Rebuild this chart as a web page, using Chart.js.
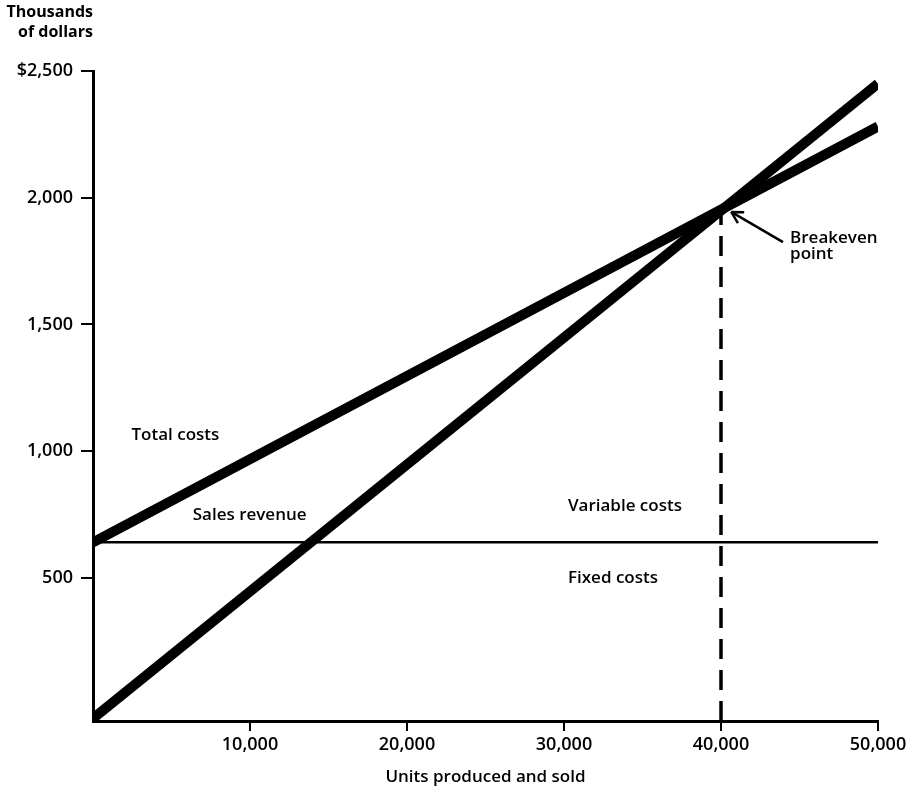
<!DOCTYPE html>
<html>
<head>
<meta charset="utf-8">
<script src="https://cdn.jsdelivr.net/npm/chart.js@4"></script>
<style>
    html, body { margin: 0; padding: 0; background: #fff; }
    #wrap { width: 918px; height: 789px; }
</style>
</head>
<body>
<div id="wrap"><canvas id="breakeven"></canvas></div>
<script>
// values (units, thousands of dollars)
const units = [0, 50000];
const totalCosts = [640, 2281];
const salesRevenue = [-55, 2450];
const fixedCosts = [640, 640];
const breakevenUnits = [40000, 40000];
const breakevenLine = [-65, 1950];

const xTicks = [10000, 20000, 30000, 40000, 50000];
const yTicks = [500, 1000, 1500, 2000, 2500];
const yMin = -65;
const yMax = 2500;

const font = 'Open Sans';

function points(xs, ys) {
    return xs.map((x, i) => ({ x: x, y: ys[i] }));
}

// text labels on the plot, placed in data coordinates
const notes = [
    { text: 'Total costs', x: 2450, y: 1043 },
    { text: 'Sales revenue', x: 6350, y: 727 },
    { text: 'Variable costs', x: 30250, y: 762 },
    { text: 'Fixed costs', x: 30250, y: 478 },
    { text: 'Breakeven', x: 44400, y: 1820 },
    { text: 'point', x: 44400, y: 1760 }
];

const notesPlugin = {
    id: 'notes',
    afterDatasetsDraw(chart) {
        const ctx = chart.ctx;
        const xs = chart.scales.x;
        const ys = chart.scales.y;
        ctx.save();
        ctx.fillStyle = '#000';
        ctx.font = '600 17px "' + font + '"';
        ctx.textAlign = 'left';
        ctx.textBaseline = 'alphabetic';
        notes.forEach(n => {
            ctx.fillText(n.text, xs.getPixelForValue(n.x), ys.getPixelForValue(n.y));
        });

        // arrow pointing at the breakeven point
        const tx = xs.getPixelForValue(43950), ty = ys.getPixelForValue(1825);
        const hx = xs.getPixelForValue(40650), hy = ys.getPixelForValue(1944);
        const ang = Math.atan2(hy - ty, hx - tx);
        ctx.strokeStyle = '#000';
        ctx.lineWidth = 2.5;
        ctx.beginPath();
        ctx.moveTo(tx, ty);
        ctx.lineTo(hx, hy);
        ctx.stroke();
        ctx.beginPath();
        ctx.moveTo(hx, hy);
        ctx.lineTo(hx - 13 * Math.cos(ang - 0.5), hy - 13 * Math.sin(ang - 0.5));
        ctx.moveTo(hx, hy);
        ctx.lineTo(hx - 13 * Math.cos(ang + 0.5), hy - 13 * Math.sin(ang + 0.5));
        ctx.stroke();

        // y axis heading
        ctx.font = '700 16px "' + font + '"';
        ctx.textAlign = 'right';
        ctx.fillText('Thousands', 93, 17);
        ctx.fillText('of dollars', 93, 37);
        ctx.restore();
    }
};

const ctx = document.getElementById('breakeven').getContext('2d');
new Chart(ctx, {
    type: 'scatter',
    data: {
        datasets: [{
            label: 'Total costs',
            data: points(units, totalCosts),
            borderWidth: 10
        }, {
            label: 'Sales revenue',
            data: points(units, salesRevenue),
            borderWidth: 10
        }, {
            label: 'Fixed costs',
            data: points(units, fixedCosts),
            borderWidth: 2.5
        }, {
            label: 'Breakeven',
            data: points(breakevenUnits, breakevenLine),
            borderWidth: 3.5,
            borderDash: [20, 11]
        }].map(d => Object.assign(d, {
            showLine: true,
            borderColor: '#000',
            borderCapStyle: 'butt',
            pointRadius: 0,
            clip: 0
        }))
    },
    options: {
        responsive: true,
        maintainAspectRatio: false,
        animation: false,
        layout: { padding: { top: 71, right: 40, left: 0, bottom: 0 } },
        plugins: {
            legend: { display: false },
            tooltip: { enabled: false }
        },
        scales: {
            x: {
                type: 'linear',
                min: 0,
                max: 50000,
                afterBuildTicks: scale => { scale.ticks = xTicks.map(v => ({ value: v })); },
                afterFit: scale => { scale.height = 68; },
                grid: { drawOnChartArea: false, color: '#000', lineWidth: 2, tickLength: 10 },
                border: { display: true, color: '#000', width: 3 },
                ticks: {
                    color: '#000',
                    padding: 3,
                    maxRotation: 0,
                    font: { family: font, size: 18, weight: '600' },
                    callback: v => v.toLocaleString('en-US')
                },
                title: {
                    display: true,
                    text: 'Units produced and sold',
                    color: '#000',
                    font: { family: font, size: 17, weight: '600' },
                    padding: { top: 0, bottom: 2 }
                }
            },
            y: {
                type: 'linear',
                min: yMin,
                max: yMax,
                afterBuildTicks: scale => { scale.ticks = yTicks.map(v => ({ value: v })); },
                afterFit: scale => { scale.width = 93; },
                grid: { drawOnChartArea: false, color: '#000', lineWidth: 2, tickLength: 12 },
                border: { display: true, color: '#000', width: 3 },
                ticks: {
                    color: '#000',
                    padding: 8,
                    font: { family: font, size: 18, weight: '600' },
                    callback: v => (v === 2500 ? '$' : '') + v.toLocaleString('en-US')
                }
            }
        }
    },
    plugins: [notesPlugin]
});
</script>
</body>
</html>
